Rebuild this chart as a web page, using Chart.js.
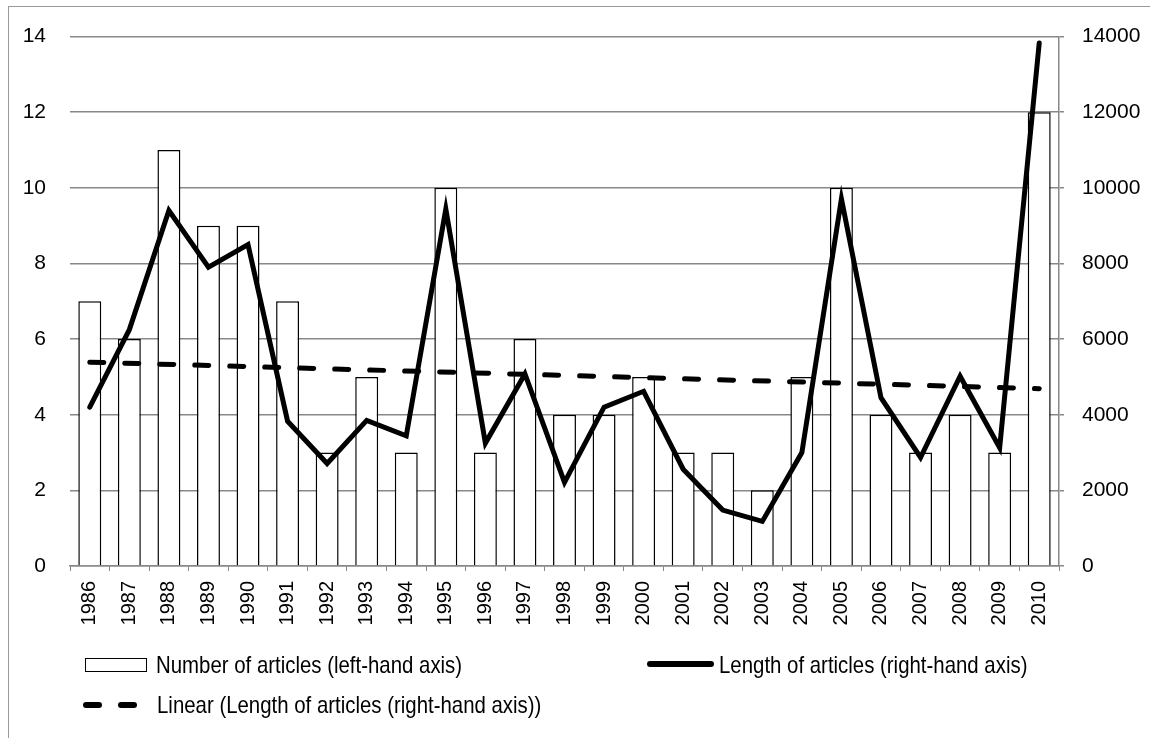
<!DOCTYPE html>
<html lang="en">
<head>
    <meta charset="UTF-8">
    <title>Number and length of articles, 1986-2010</title>
    <script src="https://cdn.jsdelivr.net/npm/chart.js"></script>
    <style>
        body { margin: 0; background: #fff; }
        #wrap { position: relative; width: 1150px; height: 738px; }
        #frame { position: absolute; left: 8px; top: 6px; right: 0; bottom: 0;
                 border-left: 1px solid #999; border-top: 1px solid #999; }
        #chart { position: absolute; left: 0; top: 0; }
        .lg { position: absolute; font-family: "Liberation Sans", Arial, sans-serif;
              font-size: 24px; color: #000; line-height: 28px; white-space: nowrap;
              transform: scaleX(0.85); transform-origin: 0 50%; }
        .icon { position: absolute; }
    </style>
</head>
<body>
<div id="wrap">
    <div id="frame"></div>
    <canvas id="chart" width="1150" height="738"></canvas>

    <!-- legenda -->
    <div class="icon" style="left:85px;top:658px;width:60px;height:12px;border:1.5px solid #000;background:#fff;"></div>
    <div class="lg" id="lg1" style="left:156px;top:651px;"></div>
    <div class="icon" style="left:647px;top:661px;width:67px;height:6px;background:#000;border-radius:3px;"></div>
    <div class="lg" id="lg2" style="left:719px;top:651px;"></div>
    <div class="icon" style="left:83px;top:702px;width:19px;height:6px;background:#000;border-radius:3px;"></div>
    <div class="icon" style="left:118px;top:702px;width:19px;height:6px;background:#000;border-radius:3px;"></div>
    <div class="lg" id="lg3" style="left:157px;top:691px;"></div>
</div>

<script>
    // dados
    const years = ["1986", "1987", "1988", "1989", "1990", "1991", "1992", "1993", "1994", "1995",
                   "1996", "1997", "1998", "1999", "2000", "2001", "2002", "2003", "2004", "2005",
                   "2006", "2007", "2008", "2009", "2010"];
    const numberOfArticles = [7, 6, 11, 9, 9, 7, 3, 5, 3, 10, 3, 6, 4, 4, 5, 3, 3, 2, 5, 10, 4, 3, 4, 3, 12];
    const lengthOfArticles = [4200, 6250, 9400, 7900, 8500, 3830, 2710, 3850, 3440, 9440,
                              3250, 5080, 2210, 4200, 4620, 2560, 1480, 1180, 3000, 9710,
                              4450, 2870, 5020, 3130, 13830];
    // tendência linear: só os dois extremos
    const trendEnds = [{ x: "1986", y: 5390 }, { x: "2010", y: 4690 }];
    const leftTicks = [0, 2, 4, 6, 8, 10, 12, 14];
    const rightTicks = [0, 2000, 4000, 6000, 8000, 10000, 12000, 14000];

    const labelBars = "Number of articles (left-hand axis)";
    const labelLine = "Length of articles (right-hand axis)";
    const labelTrend = "Linear (Length of articles (right-hand axis))";

    document.getElementById("lg1").textContent = labelBars;
    document.getElementById("lg2").textContent = labelLine;
    document.getElementById("lg3").textContent = labelTrend;

    const gridGray = "#888";
    const tickFont = { family: "'Liberation Sans', Arial", size: 21 };

    const ctx = document.getElementById("chart").getContext("2d");
    const chart = new Chart(ctx, {
        data: {
            labels: years,
            datasets: [
                {
                    type: "line",
                    label: labelLine,
                    data: lengthOfArticles,
                    yAxisID: "y1",
                    borderColor: "#000",
                    borderWidth: 5,
                    borderJoinStyle: "miter",
                    borderCapStyle: "round",
                    pointRadius: 0,
                    tension: 0,
                    order: 1
                },
                {
                    type: "line",
                    label: labelTrend,
                    data: trendEnds,
                    yAxisID: "y1",
                    borderColor: "#000",
                    borderWidth: 5,
                    borderDash: [14, 21],
                    borderCapStyle: "round",
                    pointRadius: 0,
                    order: 2
                },
                {
                    type: "bar",
                    label: labelBars,
                    data: numberOfArticles,
                    yAxisID: "y",
                    backgroundColor: "#fff",
                    borderColor: "#000",
                    borderWidth: 1.5,
                    barPercentage: 0.58,
                    categoryPercentage: 1,
                    order: 3
                }
            ]
        },
        options: {
            responsive: false,
            animation: false,
            layout: { padding: { top: 31.1, left: 0, right: 0, bottom: 0 } },
            plugins: {
                legend: { display: false },
                tooltip: { enabled: false }
            },
            scales: {
                x: {
                    offset: true,
                    afterFit: function (s) { s.height = 172; },
                    grid: { offset: true, drawOnChartArea: false, drawTicks: true, tickLength: 5, color: gridGray },
                    border: { display: true, color: gridGray, width: 1.5 },
                    ticks: {
                        autoSkip: false, minRotation: 90, maxRotation: 90, padding: 10, color: "#000",
                        font: { family: "'Liberation Sans', Arial", size: 20 }
                    }
                },
                y: {
                    position: "left",
                    min: 0, max: 14,
                    afterFit: function (s) { s.width = 70; },
                    afterBuildTicks: function (s) { s.ticks = leftTicks.map(v => ({ value: v })); },
                    grid: { color: gridGray, lineWidth: 1.5, drawTicks: false },
                    border: { display: false },
                    ticks: { padding: 24, color: "#000", font: tickFont }
                },
                y1: {
                    position: "right",
                    min: 0, max: 14000,
                    afterFit: function (s) { s.width = 91; },
                    afterBuildTicks: function (s) { s.ticks = rightTicks.map(v => ({ value: v })); },
                    grid: { drawOnChartArea: false, drawTicks: true, tickLength: 5, color: gridGray, lineWidth: 1.5 },
                    border: { display: true, color: gridGray, width: 1.5 },
                    ticks: { padding: 18, color: "#000", font: tickFont, callback: v => String(v) }
                }
            }
        }
    });
</script>
</body>
</html>
